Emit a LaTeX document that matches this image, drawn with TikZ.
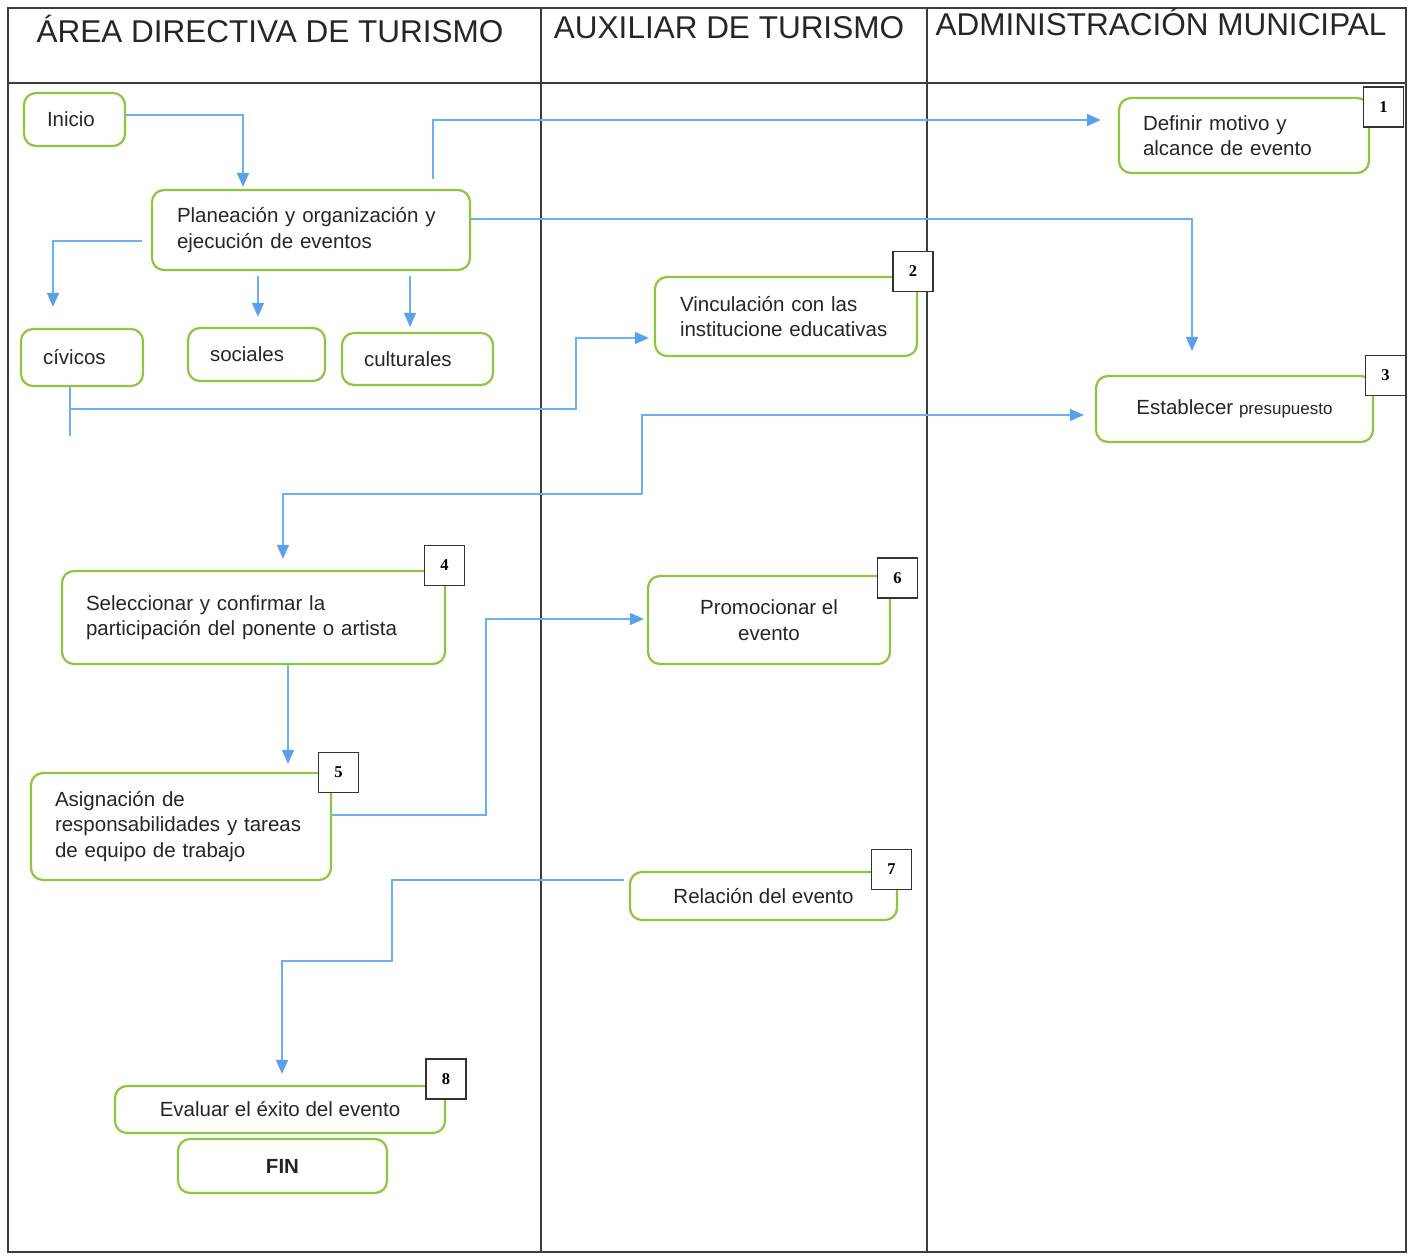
\documentclass[tikz,border=0pt]{standalone}
\usepackage{fontspec}
\setmainfont{Liberation Sans}
\newfontfamily\numfont{Liberation Serif}
\usetikzlibrary{arrows.meta,calc}
\definecolor{boxgreen}{RGB}{141,198,63}
\definecolor{flowblue}{RGB}{110,175,240}
\definecolor{tipblue}{RGB}{90,160,235}
\definecolor{framegray}{RGB}{60,60,60}
\begin{document}
\begin{tikzpicture}[x=1pt,y=-1pt,
  box/.style={draw=boxgreen, line width=2.2pt, rounded corners=12pt, fill=white, align=left, inner xsep=0pt, inner ysep=0pt, font=\fontsize{20.5}{25.5}\selectfont, text=black!85},
  cbox/.style={box, align=center},
  numbox/.style={draw=black!80, line width=1.2pt, fill=white, minimum size=40pt, inner sep=0pt, font=\numfont\bfseries\fontsize{16.5}{16.5}\selectfont},
  flow/.style={draw=flowblue, line width=1.5pt, -{Triangle[length=14pt,width=12pt,color=tipblue]}},
  wire/.style={draw=flowblue, line width=1.5pt},
  lane/.style={draw=framegray, line width=1.5pt},
  title/.style={font=\fontsize{31.5}{35}\selectfont, anchor=base, text=black!85}
]
\useasboundingbox (0,0) rectangle (1418,1257);
\fill[white] (0,0) rectangle (1418,1257);

% lanes
\draw[lane] (8,8) rectangle (1406,1252);
\draw[lane] (8,83) -- (1406,83);
\draw[lane] (541,8) -- (541,1252);
\draw[lane] (927,8) -- (927,1252);

\node[title] (t1) at (270,43) {ÁREA DIRECTIVA DE TURISMO};
\node[title] (t2) at (729,39) {AUXILIAR DE TURISMO};
\node[title] (t3) at (1161,36) {ADMINISTRACIÓN MUNICIPAL};

% nodes
\node[box, minimum width=101pt, minimum height=53pt, text width=55pt] (inicio) at (74.5,119.5) {Inicio};
\node[box, minimum width=318pt, minimum height=80pt, text width=268pt] (plan) at (311,230) {Planeación y organización y\\ejecución de eventos};
\node[box, minimum width=122pt, minimum height=57pt, text width=78pt] (civ) at (82,357.5) {cívicos};
\node[box, minimum width=137pt, minimum height=53pt, text width=93pt] (soc) at (256.5,354.5) {sociales};
\node[box, minimum width=151pt, minimum height=52pt, text width=107pt] (cul) at (417.5,359) {culturales};
\node[box, minimum width=250pt, minimum height=75pt, text width=202pt] (defm) at (1244,135.5) {Definir motivo y\\alcance de evento};
\node[box, minimum width=262pt, minimum height=79pt, text width=212pt] (vinc) at (786,316.5) {Vinculación con las\\institucione educativas};
\node[cbox, minimum width=277pt, minimum height=66pt] (estab) at (1234.5,409) {Establecer {\fontsize{17}{20}\selectfont presupuesto}};
\node[box, minimum width=383pt, minimum height=93pt, text width=335pt] (selec) at (253.5,617.5) {Seleccionar y confirmar la\\participación del ponente o artista};
\node[box, minimum width=300pt, minimum height=107pt, text width=252pt] (asig) at (181,826.5) {Asignación de\\responsabilidades y tareas\\de equipo de trabajo};
\node[cbox, minimum width=242pt, minimum height=88pt] (promo) at (769,620) {Promocionar el\\evento};
\node[cbox, minimum width=267pt, minimum height=48pt] (rel) at (763.5,896) {Relación del evento};
\node[cbox, minimum width=330pt, minimum height=47pt] (eval) at (280,1109.5) {Evaluar el éxito del evento};
\node[cbox, minimum width=209pt, minimum height=54pt, font=\bfseries\fontsize{20.5}{25.5}\selectfont] (fin) at (282.5,1166) {FIN};

% number boxes
\node[numbox] (n1) at (1383.5,107) {1};
\node[numbox] (n2) at (913,271.5) {2};
\node[numbox] (n3) at (1385.5,375.5) {3};
\node[numbox] (n4) at (444.5,565.5) {4};
\node[numbox] (n5) at (338.5,772.5) {5};
\node[numbox] (n6) at (897.5,578) {6};
\node[numbox] (n7) at (891.5,869.5) {7};
\node[numbox] (n8) at (446,1079) {8};

% connectors
\coordinate (j) at (642,494);
\coordinate (k) at (392,961);

\draw[flow] ([yshift=4.5pt]inicio.east) -| ([xshift=-68pt,yshift=2pt]plan.north);
\draw[flow] ([xshift=122pt,yshift=10pt]plan.north) |- ([xshift=-17pt,yshift=15.5pt]defm.west);
\draw[flow] ([yshift=11pt]plan.east) -| ([xshift=-42.5pt,yshift=24pt]estab.north);
\draw[flow] ([xshift=-9pt,yshift=-11pt]plan.west) -| ([xshift=-29pt,yshift=21pt]civ.north);
\draw[flow] ([xshift=-53pt,yshift=-5pt]plan.south) -- ([xshift=1.5pt,yshift=10pt]soc.north);
\draw[flow] ([xshift=99pt,yshift=-5pt]plan.south) -- ([xshift=-7.5pt,yshift=5pt]cul.north);
\draw[wire] ([xshift=-12pt]civ.south) -- ++(0,49);
\draw[flow] ([xshift=-12pt,yshift=-22pt]civ.south) -| ([xshift=-78pt,yshift=-21.5pt]vinc.west) -- ([xshift=-5pt,yshift=-21.5pt]vinc.west);
\draw[flow] (j) |- ([xshift=-11pt,yshift=-6pt]estab.west);
\draw[flow] (j) -| ([xshift=29.5pt,yshift=11pt]selec.north);
\draw[flow] ([xshift=34.5pt]selec.south) -- ([xshift=107pt,yshift=8pt]asig.north);
\draw[flow] ([yshift=11.5pt]asig.east) -| ([xshift=-161pt,yshift=1pt]promo.west) -- ([xshift=-3pt,yshift=1pt]promo.west);
\draw[flow] ([xshift=-5pt,yshift=16pt]rel.west) -| (k) -| ([xshift=2pt,yshift=11pt]eval.north);
\end{tikzpicture}
\end{document}
